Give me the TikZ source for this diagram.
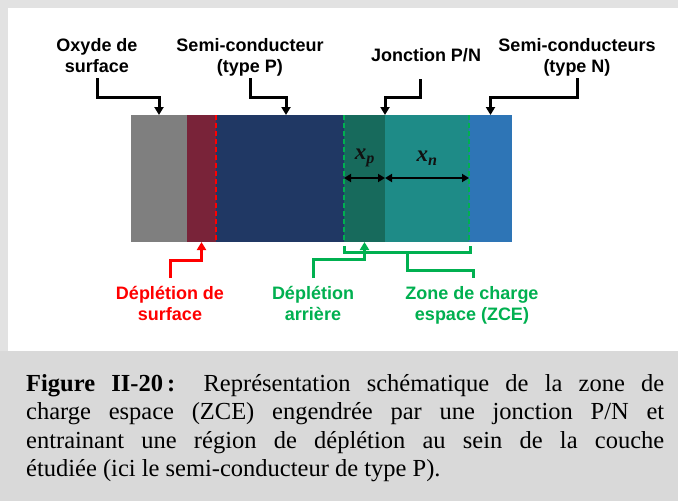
\documentclass[tikz,border=0pt]{standalone}
\usepackage{fontspec}
\setmainfont{Liberation Serif}
\newfontfamily\lsans{Liberation Sans}
\usetikzlibrary{arrows.meta}
\definecolor{cgray}{HTML}{7F7F7F}
\definecolor{cmaroon}{HTML}{792339}
\definecolor{cnavy}{HTML}{203864}
\definecolor{cdkgreen}{HTML}{176A5C}
\definecolor{cteal}{HTML}{1E8B87}
\definecolor{cblue}{HTML}{2E75B6}
\definecolor{cred}{HTML}{FF0000}
\definecolor{cgreen}{HTML}{00B050}
\definecolor{capbg}{HTML}{D9D9D9}
\definecolor{framebg}{HTML}{E2E2E2}
\definecolor{xcol}{HTML}{111111}
\newcommand{\xsym}[1]{\textbf{\textit{x}}\textsubscript{\textbf{\textit{#1}}}}
\begin{document}
\begin{tikzpicture}[x=1pt,y=-1pt,
  lbl/.style={font=\lsans\bfseries\fontsize{18}{21}\selectfont, align=center, inner sep=0pt, anchor=base},
  conn/.style={line width=3pt, line join=miter, -{Triangle[length=8pt,width=9pt]}},
  gconn/.style={line width=3pt, line join=miter, cgreen},
  seg/.style={inner sep=0pt, outer sep=0pt, anchor=north west, minimum height=127pt, draw=none},
  dashln/.style={line width=2pt, dash pattern=on 5pt off 3pt},
  dbl/.style={line width=2pt, {Triangle[length=7pt,width=8pt]}-{Triangle[length=7pt,width=8pt]}},
  xlab/.style={font=\fontsize{23}{26}\selectfont, text=xcol, inner sep=0pt}
]
\useasboundingbox (0,0) rectangle (678,501);
\fill[framebg] (0,0) rectangle (678,501);
\fill[white] (8,8) rectangle (678,351);
\fill[capbg] (0,351) rectangle (678,501);

% bar segments
\node[seg, fill=cgray,    minimum width=56pt]  (gray)    at (131,115) {};
\node[seg, fill=cmaroon,  minimum width=29pt]  (maroon)  at (187,115) {};
\node[seg, fill=cnavy,    minimum width=128pt] (navy)    at (216,115) {};
\node[seg, fill=cdkgreen, minimum width=41pt]  (dkgreen) at (344,115) {};
\node[seg, fill=cteal,    minimum width=84pt]  (teal)    at (385,115) {};
\node[seg, fill=cblue,    minimum width=43pt]  (blue)    at (469,115) {};

% dashed boundaries
\draw[dashln, cred]   (maroon.north east) -- (maroon.south east);
\draw[dashln, cgreen] (dkgreen.north west) -- (dkgreen.south west);
\draw[dashln, cgreen] (teal.north east) -- (teal.south east);

% x_p / x_n
\node[xlab] (xplab) at (365,158) {\xsym{p}};
\node[xlab] (xnlab) at (427,158) {\xsym{n}};
\coordinate (xrow) at (0,178);
\draw[dbl] (dkgreen.west |- xrow) -- (dkgreen.east |- xrow);
\draw[dbl] (teal.west |- xrow) -- (teal.east |- xrow);

% top labels (base = baseline of last line)
\node[lbl] (oxyde) at (97,72)  {Oxyde de\\surface};
\node[lbl] (semip) at (250,72) {Semi-conducteur\\(type P)};
\node[lbl] (jonc)  at (426,61) {Jonction P/N};
\node[lbl] (semin) at (577,72) {Semi-conducteurs\\(type N)};

\coordinate (s1) at (97,78);
\coordinate (s2) at (250,78);
\coordinate (s3) at (420,79);
\coordinate (s4) at (577,78);
\coordinate (t2) at (286,115);
\draw[conn] (s1) |- ([yshift=18pt]gray.north) -- (gray.north);
\draw[conn] (s2) |- ([yshift=18pt]t2) -- (t2);
\draw[conn] (s3) |- ([yshift=18pt]dkgreen.north east) -- (dkgreen.north east);
\draw[conn] (s4) |- ([yshift=18pt]blue.north) -- (blue.north);

% bottom labels
\node[lbl, text=cred]   (deps) at (170,320) {Déplétion de\\surface};
\node[lbl, text=cgreen] (depa) at (313,320) {Déplétion\\arrière};
\node[lbl, text=cgreen] (zce)  at (472,320) {Zone de charge\\espace (ZCE)};

\coordinate (b1) at (170,278);
\coordinate (b2) at (313,278);
\coordinate (b3) at (473,278);
\draw[conn, cred] (b1) |- ([yshift=-18pt]maroon.south) -- (maroon.south);
\draw[gconn, -{Triangle[length=8pt,width=9pt]}] (b2) |- ([yshift=-17pt]dkgreen.south) -- (dkgreen.south);
\coordinate (brL) at (344,246);
\coordinate (brR) at (470,246);
\coordinate (brM) at (407,252);
\draw[gconn] (brL) -- (brL |- brM) -- (brR |- brM) -- (brR);
\draw[gconn] (brM) |- ([yshift=-18pt]brM -| b3) -- (b3);

% caption
\node[anchor=base west, text width=638pt, align=justify, inner sep=0pt,
      font=\fontsize{24.5}{28.5}\selectfont] (cap) at (26,391)
{\tolerance=10000\hyphenpenalty=10000\exhyphenpenalty=10000
\textbf{Figure II-20\,:} Représentation schématique de la zone de\linebreak
charge espace (ZCE) engendrée par une jonction P/N et\linebreak
entrainant une région de déplétion au sein de la couche\linebreak
étudiée (ici le semi-conducteur de type P).};
\end{tikzpicture}
\end{document}
